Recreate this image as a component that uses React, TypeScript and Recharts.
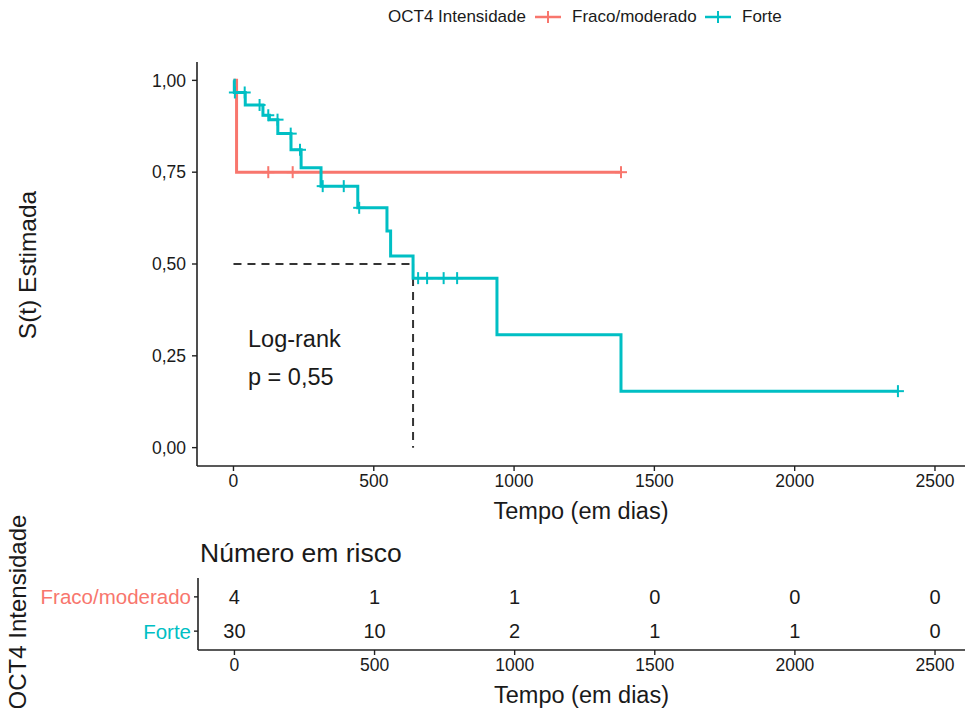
import { ComposedChart, Line, Scatter, XAxis, YAxis, ReferenceLine, Label } from "recharts";

const RED = "#F8766D";
const CYAN = "#00BFC4";
const INK = "#1a1a1a";

// tempo das marcas do eixo e da tabela de risco
const times = [0, 500, 1000, 1500, 2000, 2500];
const groupNames = ["Fraco/moderado", "Forte"];
const riskFraco = [4, 1, 1, 0, 0, 0];
const riskForte = [30, 10, 2, 1, 1, 0];
const yTicks = [0, 0.25, 0.5, 0.75, 1];

// curva Kaplan-Meier: Fraco/moderado
const fracoT = [0, 11, 1381];
const fracoS = [1, 0.75, 0.75];
const fracoCensorT = [124, 211, 1381];
const fracoCensorS = [0.75, 0.75, 0.75];

// curva Kaplan-Meier: Forte
const forteT = [0, 3, 42, 105, 128, 158, 205, 241, 312, 443, 547, 560, 640, 939, 1381, 2368];
const forteS = [1, 0.967, 0.933, 0.905, 0.893, 0.855, 0.811, 0.762, 0.712, 0.653, 0.59, 0.522, 0.4615, 0.3077, 0.1538, 0.1538];
const forteCensorT = [5, 40, 93, 124, 157, 204, 237, 318, 393, 448, 658, 690, 749, 797, 2368];
const forteCensorS = [0.967, 0.967, 0.933, 0.905, 0.893, 0.855, 0.811, 0.712, 0.712, 0.653, 0.4615, 0.4615, 0.4615, 0.4615, 0.1538];

const medianT = 640;

const fracoCurve = fracoT.map((t, i) => ({ t, s: fracoS[i] }));
const forteCurve = forteT.map((t, i) => ({ t, s: forteS[i] }));
const fracoCensor = fracoCensorT.map((t, i) => ({ t, s: fracoCensorS[i] }));
const forteCensor = forteCensorT.map((t, i) => ({ t, s: forteCensorS[i] }));

const riskFracoRows = times.map((t, i) => ({ t, g: 2, n: riskFraco[i] }));
const riskForteRows = times.map((t, i) => ({ t, g: 1, n: riskForte[i] }));

const X_DOMAIN: [number, number] = [-130, 2607];
const axisLine = { stroke: "#222", strokeWidth: 1.6 };
const tickLine = { stroke: "#222", strokeWidth: 1.4 };

function Cross(props: any, color: string) {
  const { cx, cy } = props;
  return (
    <g stroke={color} strokeWidth={2}>
      <line x1={cx - 6} y1={cy} x2={cx + 6} y2={cy} />
      <line x1={cx} y1={cy - 6} x2={cx} y2={cy + 6} />
    </g>
  );
}

function RiskText(props: any) {
  const { cx, cy, payload } = props;
  return (
    <text x={cx} y={cy} textAnchor="middle" dominantBaseline="central" fontSize={20} fill={INK}>
      {payload.n}
    </text>
  );
}

function RiskYTick(props: any) {
  const { x, y, payload } = props;
  const isFraco = payload.value === 2;
  return (
    <text x={x} y={y} textAnchor="end" dominantBaseline="central" fontSize={20.5} fill={isFraco ? RED : CYAN}>
      {isFraco ? groupNames[0] : groupNames[1]}
    </text>
  );
}

const fmtComma = (v: number) => v.toFixed(2).replace(".", ",");

function LegendKey({ color }: { color: string }) {
  return (
    <svg width={26} height={14} style={{ display: "block" }}>
      <line x1={0} y1={7} x2={26} y2={7} stroke={color} strokeWidth={2.5} />
      <line x1={13} y1={1} x2={13} y2={13} stroke={color} strokeWidth={2} />
    </svg>
  );
}

const legendText = { position: "absolute" as const, top: 7, fontSize: 17, lineHeight: "20px", whiteSpace: "nowrap" as const };

export default function App() {
  return (
    <div
      style={{
        position: "absolute",
        left: 0,
        top: 0,
        width: 967,
        height: 708,
        background: "#fff",
        fontFamily: "'Liberation Sans', Arial, sans-serif",
        color: INK,
        overflow: "hidden",
      }}
    >
      {/* legenda */}
      <div style={{ ...legendText, left: 388 }}>OCT4 Intensidade</div>
      <div style={{ position: "absolute", left: 535, top: 10 }}>
        <LegendKey color={RED} />
      </div>
      <div style={{ ...legendText, left: 572 }}>Fraco/moderado</div>
      <div style={{ position: "absolute", left: 705, top: 10 }}>
        <LegendKey color={CYAN} />
      </div>
      <div style={{ ...legendText, left: 742 }}>Forte</div>

      <div style={{ position: "absolute", left: 0, top: 0 }}>
        <ComposedChart width={967} height={530} margin={{ top: 62, right: 2, bottom: 0, left: 0 }}>
          <XAxis
            type="number"
            dataKey="t"
            domain={X_DOMAIN}
            ticks={times}
            allowDataOverflow
            height={64}
            axisLine={axisLine}
            tickLine={tickLine}
            tickSize={5}
            tickMargin={4}
            tick={{ fill: INK, fontSize: 17.5 }}
          >
            <Label value="Tempo (em dias)" position="insideBottom" offset={11} fontSize={23.5} fill={INK} />
          </XAxis>
          <YAxis
            type="number"
            dataKey="s"
            domain={[-0.05, 1.05]}
            ticks={yTicks}
            allowDataOverflow
            width={197}
            axisLine={axisLine}
            tickLine={tickLine}
            tickSize={5}
            tickMargin={6}
            tickFormatter={fmtComma}
            tick={{ fill: INK, fontSize: 17.5 }}
          >
            <Label
              content={() => (
                <text x={27} y={265} transform="rotate(-90 27 265)" textAnchor="middle" dominantBaseline="central" fontSize={24.5} fill={INK}>
                  S(t) Estimada
                </text>
              )}
            />
          </YAxis>
          <ReferenceLine
            segment={[{ x: 0, y: 0.5 }, { x: medianT, y: 0.5 }]}
            stroke="#333"
            strokeWidth={2}
            strokeDasharray="8 6"
          />
          <ReferenceLine
            segment={[{ x: medianT, y: 0.5 }, { x: medianT, y: 0 }]}
            stroke="#333"
            strokeWidth={2}
            strokeDasharray="8 6"
          />
          <Line data={fracoCurve} dataKey="s" type="stepAfter" stroke={RED} strokeWidth={3} dot={false} isAnimationActive={false} />
          <Line data={forteCurve} dataKey="s" type="stepAfter" stroke={CYAN} strokeWidth={3} dot={false} isAnimationActive={false} />
          <Scatter data={fracoCensor} shape={(p: any) => Cross(p, RED)} isAnimationActive={false} />
          <Scatter data={forteCensor} shape={(p: any) => Cross(p, CYAN)} isAnimationActive={false} />
        </ComposedChart>
      </div>

      {/* anotação do teste */}
      <div style={{ position: "absolute", left: 248, top: 325, fontSize: 23.5, lineHeight: "28px" }}>Log-rank</div>
      <div style={{ position: "absolute", left: 248, top: 363, fontSize: 23.5, lineHeight: "28px" }}>p = 0,55</div>

      {/* tabela de risco */}
      <div style={{ position: "absolute", left: 0, top: 500 }}>
        <ComposedChart width={967} height={208} margin={{ top: 78, right: 2, bottom: 0, left: 0 }}>
          <XAxis
            type="number"
            dataKey="t"
            domain={X_DOMAIN}
            ticks={times}
            allowDataOverflow
            height={58}
            axisLine={axisLine}
            tickLine={tickLine}
            tickSize={5}
            tickMargin={4}
            tick={{ fill: INK, fontSize: 17.5 }}
          >
            <Label value="Tempo (em dias)" position="insideBottom" offset={5} fontSize={23.5} fill={INK} />
          </XAxis>
          <YAxis
            type="number"
            dataKey="g"
            domain={[0.45, 2.55]}
            ticks={[1, 2]}
            width={198}
            axisLine={axisLine}
            tickLine={tickLine}
            tickSize={4}
            tickMargin={3}
            tick={<RiskYTick />}
          >
            <Label
              content={() => (
                <g>
                  <text x={200} y={53} dominantBaseline="central" fontSize={26.5} fill={INK}>
                    Número em risco
                  </text>
                  <text x={17} y={112} transform="rotate(-90 17 112)" textAnchor="middle" dominantBaseline="central" fontSize={24} fill={INK}>
                    OCT4 Intensidade
                  </text>
                </g>
              )}
            />
          </YAxis>
          <Scatter data={riskFracoRows} shape={RiskText} isAnimationActive={false} />
          <Scatter data={riskForteRows} shape={RiskText} isAnimationActive={false} />
        </ComposedChart>
      </div>
    </div>
  );
}
